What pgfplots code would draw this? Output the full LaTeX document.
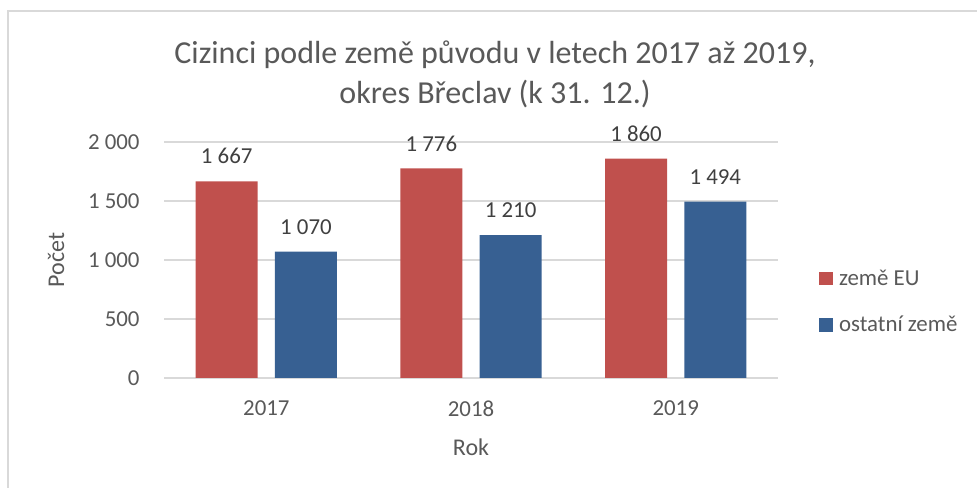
\documentclass[border=0pt]{standalone}
\usepackage{pgfplots}
\pgfplotsset{compat=1.18}
\usepackage{fontspec}
\setmainfont{Carlito}
\definecolor{eured}{HTML}{C0504D}
\definecolor{othblue}{HTML}{376092}
\definecolor{txt}{HTML}{595959}
\definecolor{lbl}{HTML}{404040}
\definecolor{gridc}{HTML}{D9D9D9}
\begin{document}
\begin{tikzpicture}[x=0.4375pt,y=0.4375pt]
\path[use as bounding box] (0,0) rectangle (977,488);
\begin{scope}
\clip (0,0) rectangle (977,488);
\draw[gridc, line width=0.9pt] (8,-10) -- (8,477) -- (990,477);
\end{scope}
\node[font=\fontsize{14}{17}\selectfont, text=txt, anchor=base, inner sep=0pt] at (495,424) {Cizinci podle země původu v letech 2017 až 2019,};
\node[font=\fontsize{14}{17}\selectfont, text=txt, anchor=base, inner sep=0pt] at (495,384) {okres Břeclav (k 31. 12.)};
\begin{axis}[
  at={(71.75pt,48.125pt)}, anchor=south west,
  scale only axis, width=268.625pt, height=103.25pt,
  ybar, bar width=0.303,
  xmin=-0.5, xmax=2.5, ymin=0, ymax=2000,
  enlargelimits=false,
  xtick={0,1,2}, xticklabels={2017,2018,2019},
  ytick={0,500,1000,1500,2000},
  scaled y ticks=false,
  axis line style={draw=none},
  major tick length=0pt,
  ymajorgrids, grid style={draw=gridc, line width=0.7pt},
  tick label style={font=\fontsize{10}{12}\selectfont, text=txt},
  yticklabel style={anchor=east, inner sep=0pt, xshift=-10.5pt},
  xticklabel style={anchor=north, inner sep=0pt, yshift=-9.6pt},
  ylabel={Počet},
  ylabel style={at={(axis description cs:-0.1759,0.5)}, anchor=center, inner sep=0pt, font=\fontsize{10.5}{12}\selectfont, text=txt},
  xlabel={Rok},
  xlabel style={at={(axis description cs:0.5,-0.2924)}, anchor=center, inner sep=0pt, font=\fontsize{10.5}{12}\selectfont, text=txt},
  /pgf/number format/1000 sep={\ },
  /pgf/number format/assume math mode=true,
  nodes near coords,
  every node near coord/.append style={font=\fontsize{10}{12}\selectfont, text=lbl, anchor=south, inner sep=0pt, yshift=7.3pt},
  legend style={at={(1.0668,0.319)}, anchor=west, draw=none, fill=none, inner sep=0pt, outer sep=0pt, row sep=12pt, column sep=2.75pt, font=\fontsize{10}{12}\selectfont, text=txt, nodes={inner sep=0pt, anchor=base west}},
  legend image code/.code={\fill[#1] (0pt,0pt) rectangle (6pt,6pt);},
]
\addplot[fill=eured, draw=none, bar shift=-0.1937] coordinates {(0,1667) (1,1776) (2,1860)};
\addlegendentry{země EU}
\addplot[fill=othblue, draw=none, bar shift=0.1937] coordinates {(0,1070) (1,1210) (2,1494)};
\addlegendentry{ostatní země}
\end{axis}
\end{tikzpicture}
\end{document}
